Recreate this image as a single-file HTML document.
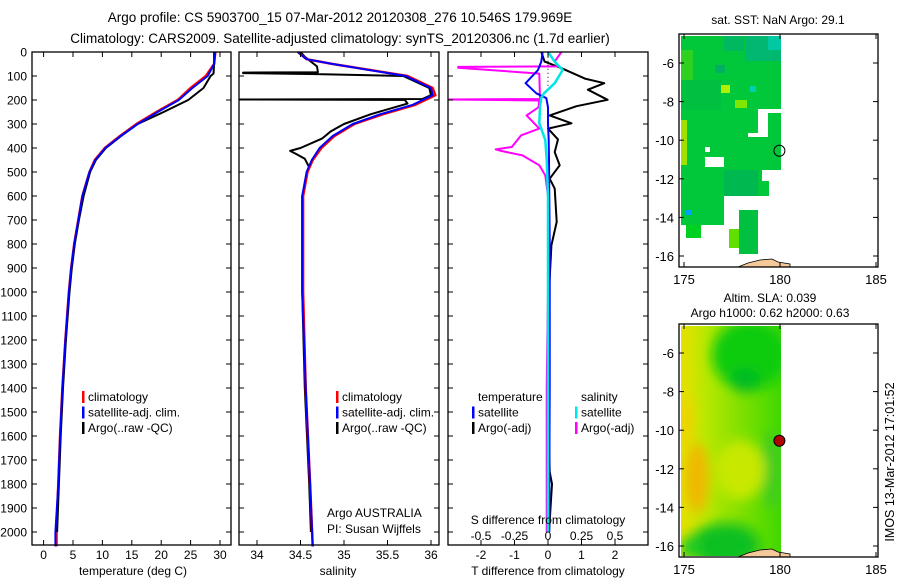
<!DOCTYPE html>
<html><head><meta charset="utf-8"><style>
html,body{margin:0;padding:0;background:#fff;}
svg{display:block;font-family:"Liberation Sans",sans-serif;}
text{fill:#000;}
</style></head><body>
<svg id="fig" width="900" height="580" viewBox="0 0 900 580">
<text x="340" y="22" font-size="13.5" text-anchor="middle">Argo profile: CS 5903700_15 07-Mar-2012 20120308_276 10.546S 179.969E</text>
<text x="340" y="43" font-size="13.5" text-anchor="middle">Climatology: CARS2009. Satellite-adjusted climatology: synTS_20120306.nc (1.7d earlier)</text>
<g id="panels"></g>
<g id="maps"></g>
<text transform="translate(894,462) rotate(-90)" font-size="12.5" text-anchor="middle">IMOS 13-Mar-2012 17:01:52</text>
</svg>
<script>
// ---- data ----
const tempClimDepth = [0,50,100,150,200,250,300,350,400,450,500,600,700,800,900,1000,1200,1400,1600,1800,2000,2060];
const tempClim = [29.2,29.0,27.6,25.0,22.8,19.2,15.8,13.0,10.4,8.7,7.8,6.6,5.9,5.2,4.7,4.3,3.7,3.2,2.8,2.5,2.2,2.2];
const tempSat  = [29.2,29.0,27.9,25.3,23.0,19.4,16.0,13.1,10.5,8.8,7.8,6.6,5.9,5.2,4.7,4.3,3.7,3.2,2.8,2.5,2.0,2.0];
const tempArgoDepth = [0,50,90,100,150,200,250,300,350,400,450,500,600,700,800,900,1000,1200,1400,1600,1800,2000];
const tempArgo = [29.0,29.0,28.9,28.4,27.2,24.6,20.4,16.0,13.2,10.6,8.9,7.9,6.8,6.0,5.3,4.8,4.4,3.8,3.3,2.9,2.6,2.3];
const salDepth = [0,30,50,100,150,180,220,260,300,350,400,450,500,600,1000,1400,1800,2060];
const salClim = [34.47,34.57,34.87,35.73,36.02,36.05,35.82,35.44,35.12,34.89,34.74,34.64,34.58,34.53,34.53,34.56,34.61,34.64];
const salSat  = [34.47,34.57,34.87,35.71,36.00,36.02,35.79,35.41,35.10,34.87,34.72,34.63,34.57,34.52,34.52,34.56,34.61,34.64];
const salArgoDepth = [0,20,60,84,86,88,92,100,150,180,196,198,200,215,260,300,330,360,400,412,425,445,480,500,600,1000,1400,1800,2000];
const salArgo = [34.5,34.55,34.69,34.7,33.84,33.84,34.69,35.68,35.98,36.0,35.9,33.78,35.7,35.73,35.3,35.0,34.85,34.75,34.5,34.38,34.45,34.55,34.6,34.58,34.52,34.52,34.55,34.6,34.62];
const diffDepth = [0,40,75,130,172,192,230,297,367,450,600,800,1000,1400,1800,2000];
const tDiffSat = [-0.16,-0.2,-0.3,-0.67,-0.35,-0.05,0.0,0.0,0.02,0.03,0.04,0.05,0.05,0.05,0.04,0.04];
const sDiffSat = [0.0,0.05,0.11,0.05,-0.03,-0.05,-0.06,-0.065,-0.02,-0.01,0.0,0.0,0.0,0.0,0.0,0.0];
const tDiffArgoDepth = [0,40,69,111,130,157,199,226,264,297,319,364,417,472,528,569,708,806,1000,1400,1750,1800,2000];
const tDiffArgo = [-0.2,-0.1,0.43,1.1,1.68,1.19,1.78,0.85,0.05,0.7,0.0,0.3,0.2,0.35,0.05,0.2,0.26,0.1,0.03,0.0,0.05,0.12,0.03];
const sDiffArgoDepth = [0,40,60,62,66,90,196,198,202,230,264,319,347,396,406,412,431,472,514,600,1000,1400,2000];
const sDiffArgo = [0.1,0.05,0.08,-0.67,-0.67,-0.065,-0.06,-0.75,-0.065,-0.07,-0.16,-0.065,-0.2,-0.27,-0.39,-0.35,-0.19,-0.065,-0.02,0.0,0.0,-0.01,-0.01];
const depthTicks = [0,100,200,300,400,500,600,700,800,900,1000,1100,1200,1300,1400,1500,1600,1700,1800,1900,2000];
const tempTicks = [0,5,10,15,20,25,30];
const salTicks = [34,34.5,35,35.5,36];
const salTickLabels = ["34","34.5","35","35.5","36"];
const tDiffTicks = [-2,-1,0,1,2];
const sDiffTicks = [-0.5,-0.25,0,0.25,0.5];
const sDiffTickLabels = ["-0.5","-0.25","0","0.25","0.5"];
const latTicks = [-6,-8,-10,-12,-14,-16];
const lonTicks = [175,180,185];
const argoLon = 179.969, argoLat = -10.546;

const NS='http://www.w3.org/2000/svg';
function mk(tag, attrs, parent){const e=document.createElementNS(NS,tag);for(const k in attrs)e.setAttribute(k,attrs[k]);parent.appendChild(e);return e;}
const panels=document.getElementById('panels');
const TOP=52, BOT=545;
const yD = d => TOP + d*0.24;

function frame(g,x0,x1,y0,y1){
  const r=mk('rect',{x:x0,y:y0,width:x1-x0,height:y1-y0,fill:'none',stroke:'#000','stroke-width':1.3},g);
  
  
}
function line(g,xs,ds,xf,color,w,name){
  const p=mk('polyline',{points:xs.map((v,i)=>xf(v).toFixed(1)+','+yD(ds[i]).toFixed(1)).join(' '),fill:'none',stroke:color,'stroke-width':w,'stroke-linejoin':'round'},g);
  
  
}
function txt(g,x,y,s,anchor,size,name){
  const t=mk('text',{x:x,y:y,'font-size':size||12,'text-anchor':anchor||'start'},g);
  t.textContent=s;
  
  
  return t;
}
function xTicks(g,ticks,labels,xf,y0,y1,ly,name){
  ticks.forEach((v,i)=>{
    const x=xf(v);
    mk('line',{x1:x,x2:x,y1:y1,y2:y1-5,stroke:'#000'},g);
    mk('line',{x1:x,x2:x,y1:y0,y2:y0+5,stroke:'#000'},g);
    if(ly) txt(g,x,ly,labels[i],'middle',12,name);
  });
}
function depthAxis(g,x0,x1,labels){
  depthTicks.forEach(d=>{
    const y=yD(d);
    mk('line',{x1:x0,x2:x0+5,y1:y,y2:y,stroke:'#000'},g);
    mk('line',{x1:x1,x2:x1-5,y1:y,y2:y,stroke:'#000'},g);
    if(labels) txt(g,27,y+4.5,String(d),'end',12,'depth-tick-label');
  });
}
function legend(g,x,y,items){
  items.forEach((it,i)=>{
    const yy=y+i*15.5;
    if(it[1]){
      const b=mk('rect',{x:x,y:yy-10,width:2.5,height:12,fill:it[1]},g);
      
      
    }
    txt(g,x+6,yy,it[0],'start',12,'legend-entry');
  });
}

// Panel 1: temperature
const g1=mk('g',{},panels);  
const xT = t => 43.6 + t*5.88;
line(g1,tempClim,tempClimDepth,xT,'#ff0000',2.5,'temp-climatology-line');
line(g1,tempArgo,tempArgoDepth,xT,'#000',2,'temp-argo-line');
line(g1,tempSat,tempClimDepth,xT,'#0000ff',2,'temp-satellite-line');
frame(g1,32,231,TOP,BOT);
depthAxis(g1,32,231,true);
xTicks(g1,tempTicks,tempTicks.map(String),xT,TOP,BOT,559,'temp-tick-label');
txt(g1,133,575,'temperature (deg C)','middle',12,'x-axis-title-temperature');
legend(g1,82,401,[['climatology','#ff0000'],['satellite-adj. clim.','#0000ff'],['Argo(..raw -QC)','#000']]);

// Panel 2: salinity
const g2=mk('g',{},panels);  
const xS = s => Math.max(240, 257 + (s-34)*87);
line(g2,salArgo,salArgoDepth,xS,'#000',2,'sal-argo-line');
line(g2,salClim,salDepth,xS,'#ff0000',2.5,'sal-climatology-line');
line(g2,salSat,salDepth,xS,'#0000ff',2,'sal-satellite-line');
frame(g2,239,439,TOP,BOT);
depthAxis(g2,239,439,false);
xTicks(g2,salTicks,salTickLabels,xS,TOP,BOT,559,'sal-tick-label');
txt(g2,338,575,'salinity','middle',12,'x-axis-title-salinity');
legend(g2,336,401,[['climatology','#ff0000'],['satellite-adj. clim.','#0000ff'],['Argo(..raw -QC)','#000']]);
txt(g2,327,517,'Argo AUSTRALIA','start',12,'operator-label');
txt(g2,327,533,'PI: Susan Wijffels','start',12,'pi-label');

// Panel 3: differences
const g3=mk('g',{},panels);  
const xTd = t => 548 + t*33.5;
const xSd = s => Math.max(449, 548 + s*134);
mk('line',{x1:548,x2:548,y1:yD(20),y2:yD(170),stroke:'#000','stroke-dasharray':'1,3'},g3);
line(g3,tDiffArgo,tDiffArgoDepth,xTd,'#000',2,'tdiff-argo-line');
line(g3,sDiffArgo,sDiffArgoDepth,xSd,'#ff00ff',2,'sdiff-argo-line');
line(g3,tDiffSat,diffDepth,xTd,'#0000ff',2,'tdiff-satellite-line');
line(g3,sDiffSat,diffDepth,xSd,'#00e5e5',2.5,'sdiff-satellite-line');
frame(g3,448,648,TOP,BOT);
depthAxis(g3,448,648,false);
xTicks(g3,tDiffTicks,tDiffTicks.map(String),xTd,TOP,BOT,559,'tdiff-tick-label');
sDiffTicks.forEach((v,i)=>txt(g3,xSd(v),540,sDiffTickLabels[i],'middle',12,'sdiff-tick-label'));
txt(g3,548,524,'S difference from climatology','middle',12,'sdiff-axis-title');
txt(g3,548,575,'T difference from climatology','middle',12,'x-axis-title-tdiff');
legend(g3,472,401,[['temperature',null],['satellite','#0000ff'],['Argo(-adj)','#000']]);
legend(g3,575,401,[['salinity',null],['satellite','#00e5e5'],['Argo(-adj)','#ff00ff']]);

// ---- maps ----
const maps=document.getElementById('maps');
function mapScale(lat6y){
  const xL = lon => 684 + (lon-175)*19.2;
  const yL = lat => lat6y + (-6-lat)*19.3;
  return {xL,yL};
}
function mapAxes(g,y0,y1,yL,xL){
  frame(g,679,878,y0,y1);
  latTicks.forEach(l=>{const y=yL(l);
    mk('line',{x1:679,x2:684,y1:y,y2:y,stroke:'#000'},g);
    mk('line',{x1:878,x2:873,y1:y,y2:y,stroke:'#000'},g);
    txt(g,674,y+5,String(l),'end',13,'lat-tick-label');});
  lonTicks.forEach(l=>{const x=xL(l);
    mk('line',{x1:x,x2:x,y1:y0,y2:y0+5,stroke:'#000'},g);
    mk('line',{x1:x,x2:x,y1:y1,y2:y1-5,stroke:'#000'},g);
    txt(g,x,y1+17,String(l),'middle',13,'lon-tick-label');});
}
function rects(g,list){list.forEach(r=>mk('rect',{x:r[0],y:r[1],width:r[2],height:r[3],fill:r[4]},g));}
function coast(g,yb){
  mk('path',{d:`M738 ${yb} L748 ${yb-4} L760 ${yb-7} L772 ${yb-8} L778 ${yb-5} L790 ${yb-3} L790 ${yb} Z`,fill:'#f5c89a',stroke:'#000','stroke-width':0.8},g);
}

// SST map
const m1=mk('g',{},maps);  
const M1=mapScale(63);
rects(m1,[
 [681,36,100,160,'#00c83a'],
 [758,109,23,4,'#fff'],[758,109,10,28,'#fff'],[748,133,20,4,'#fff'],
 [762,170,19,11,'#fff'],[769,181,12,15,'#fff'],
 [705,157,19,10,'#fff'],[705,147,5,5,'#fff'],
 [724,170,34,26,'#00b850'],
 [681,196,43,29,'#00c83a'],[686,225,15,13,'#00d020'],
 [739,210,19,44,'#00c040'],[729,229,10,19,'#60e000'],
 [745,36,36,25,'#00b870'],[768,36,13,14,'#00c8a0'],[715,85,15,8,'#b0f000'],[735,100,12,8,'#80e800'],
 [681,50,12,30,'#30d020'],[681,120,6,45,'#a0e000'],[686,210,6,5,'#00a0ff'],[750,86,6,6,'#00d0b0'],
 [715,65,10,8,'#00b060'],[724,36,20,15,'#00b860'],[681,80,40,30,'#00c040']
]);
coast(m1,267);
const c1=mk('circle',{cx:M1.xL(argoLon),cy:M1.yL(argoLat),r:5.5,fill:'none',stroke:'#000','stroke-width':1},m1);
 
mapAxes(m1,34,267,M1.yL,M1.xL);
txt(m1,778,24,'sat. SST: NaN Argo: 29.1','middle',12,'sst-map-title');

// SLA map
const m2=mk('g',{},maps);  
const M2=mapScale(353);
const defs=mk('defs',{},m2);
const gr=mk('linearGradient',{id:'slag',x1:0,x2:1,y1:0,y2:0},defs);
[['0','#e8e000'],['0.25','#b8e800'],['0.6','#80e000'],['1','#40d800']].forEach(s=>mk('stop',{offset:s[0],'stop-color':s[1]},gr));
const fl=mk('filter',{id:'blur'},defs); mk('feGaussianBlur',{stdDeviation:6},fl);
const cp=mk('clipPath',{id:'slaclip'},defs); mk('rect',{x:681,y:326,width:100,height:230},cp);
const inner=mk('g',{'clip-path':'url(#slaclip)'},m2);
mk('rect',{x:681,y:326,width:100,height:230,fill:'url(#slag)'},inner);
const bl=mk('g',{filter:'url(#blur)'},inner);
mk('ellipse',{cx:750,cy:355,rx:38,ry:35,fill:'#10cc10'},bl);
mk('ellipse',{cx:745,cy:380,rx:15,ry:12,fill:'#00bb20'},bl);
mk('ellipse',{cx:725,cy:545,rx:35,ry:22,fill:'#10c020'},bl);
mk('ellipse',{cx:690,cy:548,rx:10,ry:12,fill:'#20cc20'},bl);
mk('ellipse',{cx:697,cy:478,rx:12,ry:35,fill:'#f0b800'},bl);
mk('ellipse',{cx:686,cy:420,rx:6,ry:25,fill:'#f0d000'},bl);
mk('ellipse',{cx:772,cy:470,rx:10,ry:40,fill:'#40cc20'},bl);
mk('ellipse',{cx:740,cy:470,rx:25,ry:30,fill:'#c8e800'},bl);
coast(m2,557);
const c2=mk('circle',{cx:M2.xL(argoLon),cy:M2.yL(argoLat),r:5.5,fill:'#b00000',stroke:'#000','stroke-width':1},m2);
 
mapAxes(m2,324,557,M2.yL,M2.xL);
txt(m2,770,302,'Altim. SLA: 0.039','middle',12,'sla-map-title');
txt(m2,770,317,'Argo h1000: 0.62 h2000: 0.63','middle',12,'sla-map-subtitle');
</script>
</body></html>
